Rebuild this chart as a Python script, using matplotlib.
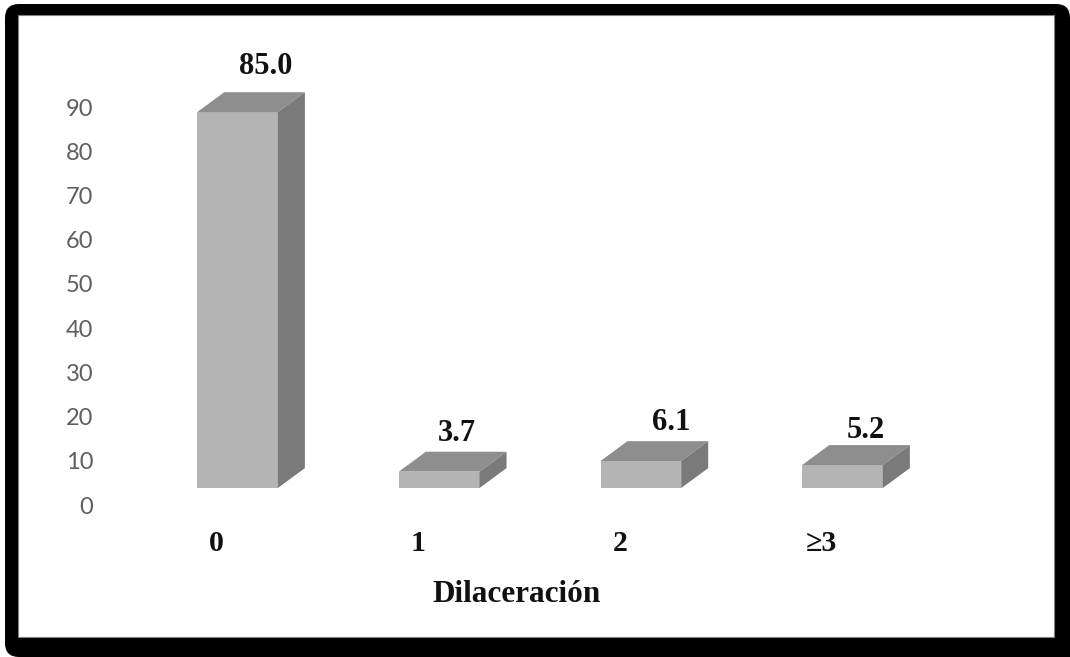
import matplotlib
matplotlib.use("Agg")
import matplotlib.pyplot as plt
from matplotlib.patches import Polygon, FancyBboxPatch, Rectangle
from matplotlib.transforms import ScaledTranslation, IdentityTransform

# ---- data -------------------------------------------------------------
categories = ["0", "1", "2", "≥3"]
values = [85.0, 3.7, 6.1, 5.2]
value_labels = ["85.0", "3.7", "6.1", "5.2"]
y_ticks = [0, 10, 20, 30, 40, 50, 60, 70, 80, 90]
axis_title = "Dilaceración"

# ---- style ------------------------------------------------------------
W, H, DPI = 1070, 657, 100
FRONT = "#b4b4b4"
TOP = "#8e8e8e"
SIDE = "#7a7a7a"
BAR_WIDTH = 0.40
DEPTH_X = 0.134   # depth of the 3-D boxes, in category units
DEPTH_Y = 4.5     # depth of the 3-D boxes, in value units
SERIF = "Liberation Serif"
# pixel nudges for the value labels
label_nudge = [(15, 26), (4, 18), (17, 19), (10, 15)]

fig = plt.figure(figsize=(W / DPI, H / DPI), dpi=DPI)
fig.patch.set_facecolor("white")

# black rounded frame with a drop shadow on the right and bottom
px = IdentityTransform()
frame = FancyBboxPatch((5, 0), W - 5, H - 4,
                       boxstyle="round,pad=0,rounding_size=14",
                       transform=px, facecolor="black", edgecolor="none",
                       zorder=-4)
corner = Rectangle((W / 2, 0), W / 2, H / 2, transform=px,
                   facecolor="black", edgecolor="none", zorder=-3)
inner = Rectangle((18, H - 637), 1054 - 18, 637 - 15, transform=px,
                  facecolor="white", edgecolor="#808080", linewidth=0.8,
                  zorder=-2)
fig.add_artist(frame)
fig.add_artist(corner)
fig.add_artist(inner)

ax = fig.add_axes([100 / W, 152 / H, 900 / W, 398 / H])
ax.patch.set_alpha(0)
for s in ax.spines.values():
    s.set_visible(False)

# front faces sit slightly above the axis baseline
front_tr = ax.transData + ScaledTranslation(0, 0.17, fig.dpi_scale_trans)

xs = list(range(len(categories)))
ax.bar(xs, values, width=BAR_WIDTH, color=FRONT, edgecolor="none",
       transform=front_tr, clip_on=False, zorder=3)

for x, v in zip(xs, values):
    l, r = x - BAR_WIDTH / 2, x + BAR_WIDTH / 2
    top = Polygon([(l, v), (r, v), (r + DEPTH_X, v + DEPTH_Y),
                   (l + DEPTH_X, v + DEPTH_Y)], closed=True,
                  facecolor=TOP, edgecolor="none", transform=front_tr,
                  clip_on=False, zorder=3)
    side = Polygon([(r, 0), (r + DEPTH_X, DEPTH_Y), (r + DEPTH_X, v + DEPTH_Y),
                    (r, v)], closed=True, facecolor=SIDE, edgecolor="none",
                   transform=front_tr, clip_on=False, zorder=3)
    ax.add_patch(top)
    ax.add_patch(side)

for x, v, txt, (nx, ny) in zip(xs, values, value_labels, label_nudge):
    ax.annotate(txt, xy=(x + DEPTH_X / 2, v + DEPTH_Y), xycoords=front_tr,
                xytext=(nx, ny), textcoords="offset pixels",
                ha="center", va="center", fontsize=22, fontweight="bold",
                family=SERIF, color="#111111", annotation_clip=False)

ax.set_xlim(-0.682, 3.781)
ax.set_ylim(0, 90)

ax.set_yticks(y_ticks)
ax.set_yticklabels([str(t) for t in y_ticks])
ax.tick_params(axis="y", length=0, pad=5, labelsize=17, labelcolor="#5f5f5f")
for lbl in ax.get_yticklabels():
    lbl.set_fontfamily("Lato")

ax.set_xticks(xs)
ax.set_xticklabels(categories)
ax.tick_params(axis="x", length=0, pad=18, labelsize=21.5, labelcolor="#111111")
shift = ScaledTranslation(-0.21, 0, fig.dpi_scale_trans)
for lbl in ax.get_xticklabels():
    lbl.set_fontfamily(SERIF)
    lbl.set_fontweight("bold")
    lbl.set_transform(lbl.get_transform() + shift)

ax.set_xlabel(axis_title, fontsize=22.5, fontweight="bold", family=SERIF,
              color="#111111")
ax.xaxis.set_label_coords(0.463, -0.188)

fig.savefig("out.png", dpi=DPI)
